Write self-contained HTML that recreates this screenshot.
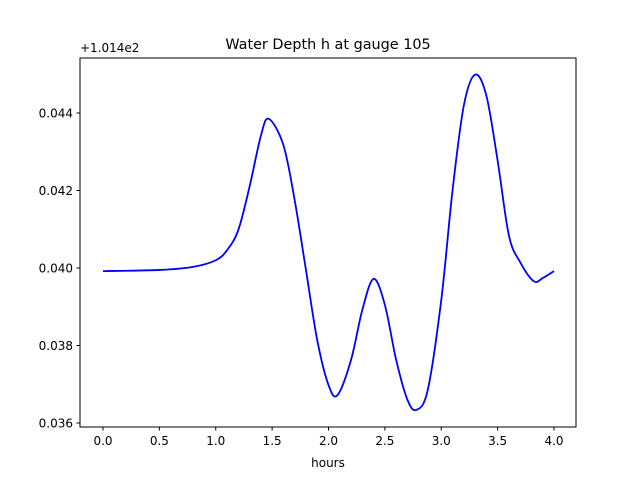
<!DOCTYPE html>
<html><head><meta charset="utf-8"><style>
body{margin:0;background:#fff}
svg text{font-family:"DejaVu Sans","Liberation Sans",sans-serif;fill:#000}
</style></head><body>
<svg id="chart" width="640" height="480" xmlns="http://www.w3.org/2000/svg">
<rect width="640" height="480" fill="#fff"/>
<text x="328" y="49" font-size="14.4" text-anchor="middle">Water Depth h at gauge 105</text>
<text x="80" y="52" font-size="12">+1.014e2</text>
<text x="328" y="467" font-size="12" text-anchor="middle">hours</text>
<g id="ticks"></g>
<path id="line" fill="none" stroke="#0000ff" stroke-width="1.8"/>
<rect x="80" y="58" width="496" height="369" fill="none" stroke="#000" stroke-width="1"/>
</svg>
<script>
const xs=[0.0,0.5,0.8,1.0,1.1,1.2,1.3,1.4,1.47,1.6,1.7,1.8,1.9,2.0,2.08,2.2,2.3,2.4,2.5,2.6,2.7,2.78,2.88,3.0,3.1,3.2,3.3,3.4,3.5,3.6,3.7,3.82,3.9,4.0];
const ys=[0.03992,0.03995,0.04003,0.0402,0.04046,0.04098,0.0421,0.04341,0.04385,0.04317,0.04175,0.03995,0.03814,0.03698,0.03672,0.03763,0.03892,0.03972,0.03905,0.03763,0.0366,0.03634,0.03685,0.03917,0.0420,0.04419,0.04499,0.04445,0.04277,0.04084,0.04015,0.03966,0.03974,0.03992];
const xTicks=[0,0.5,1,1.5,2,2.5,3,3.5,4];
const xTickLabels=["0.0","0.5","1.0","1.5","2.0","2.5","3.0","3.5","4.0"];
const yTicks=[0.036,0.038,0.040,0.042,0.044];
const yTickLabels=["0.036","0.038","0.040","0.042","0.044"];
const X=v=>103+(v-0)*112.75;
const Y=v=>268-(v-0.040)*38750;
const ns="http://www.w3.org/2000/svg",g=document.getElementById('ticks');
function mk(t,a){const e=document.createElementNS(ns,t);for(const k in a)e.setAttribute(k,a[k]);g.appendChild(e);return e;}
xTicks.forEach((v,i)=>{
 const l=mk('line',{x1:X(v),x2:X(v),y1:427,y2:430.5,stroke:'#000'});
 
 
 const t=mk('text',{x:X(v),y:445,'font-size':12,'text-anchor':'middle'});t.textContent=xTickLabels[i];
 
 
});
yTicks.forEach((v,i)=>{
 const l=mk('line',{x1:76.5,x2:80,y1:Y(v),y2:Y(v),stroke:'#000'});
 
 
 const t=mk('text',{x:73,y:Y(v)+4.5,'font-size':12,'text-anchor':'end'});t.textContent=yTickLabels[i];
 
 
});
const P=xs.map((x,i)=>[X(x),Y(ys[i])]);
let d='M'+P[0][0]+','+P[0][1];
for(let i=0;i<P.length-1;i++){
 const p0=P[Math.max(i-1,0)],p1=P[i],p2=P[i+1],p3=P[Math.min(i+2,P.length-1)];
 const c1=[p1[0]+(p2[0]-p0[0])/6,p1[1]+(p2[1]-p0[1])/6],c2=[p2[0]-(p3[0]-p1[0])/6,p2[1]-(p3[1]-p1[1])/6];
 d+=` C${c1[0]},${c1[1]} ${c2[0]},${c2[1]} ${p2[0]},${p2[1]}`;
}
document.getElementById('line').setAttribute('d',d);
</script>
</body></html>
